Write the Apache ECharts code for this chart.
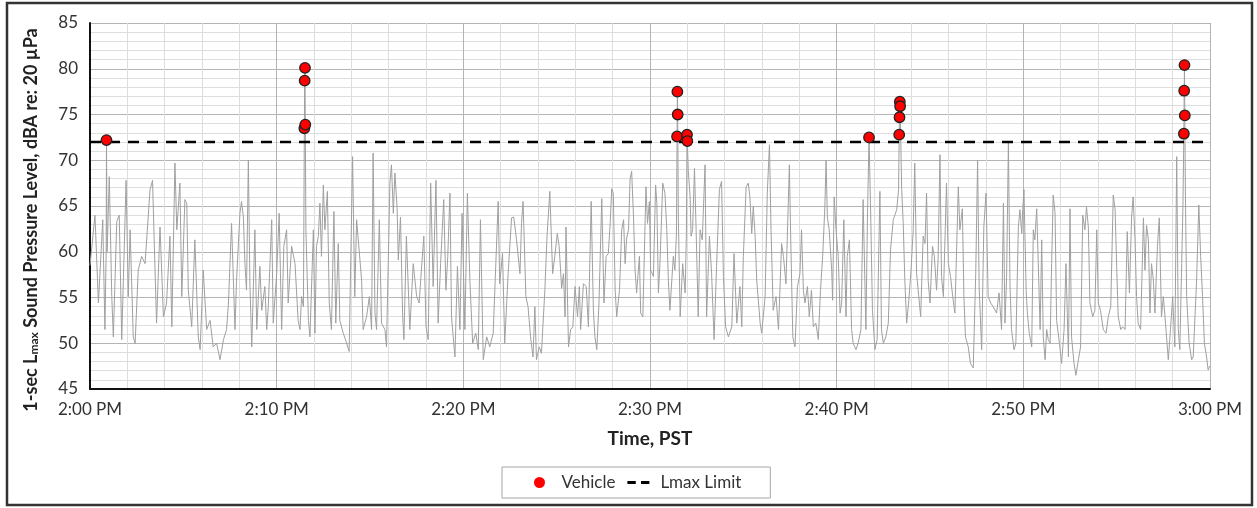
<!DOCTYPE html>
<html>
<head>
<meta charset="utf-8">
<script src="https://cdn.jsdelivr.net/npm/echarts@6/dist/echarts.min.js"></script>
<style>html,body{margin:0;padding:0;background:#fff;}#chart{width:1257px;height:508px;}</style>
</head>
<body>
<div id="chart"></div>
<script>
// Time axis: seconds after 2:00 PM
const xTickLabels = ['2:00 PM','2:10 PM','2:20 PM','2:30 PM','2:40 PM','2:50 PM','3:00 PM'];
const limitDb = 72;

// 1-sec Lmax trace (vertices)
const timeSec = [
0,16,27,41,48,52,53,55,62,70,75,86,94,102,116,123,129,139,145,155,166,177,193,201,209,214,225,236,246,257,263,273,279,289,295,305,311,316,327,337,348,354,364,375,386,396,407,418,429,439,445,455,466,471,482,487,493,498,503,509,514,520,530,536,546,552,562,568,573,584,589,600,608,616,623,632,637,648,659,669,675,680,686,689,690,691,692,694,702,707,718,723,728,734,739,
744,750,755,763,769,776,784,790,798,803,814,825,833,844,851,857,865,873,878,889,898,905,910,916,921,930,937,948,953,964,969,975,980,987,991,998,1005,1009,1017,1028,1039,1050,1058,1066,1073,1080,1087,1095,1103,1112,1119,1127,1137,1144,1150,1157,1162,1173,1181,1189,1196,1205,1213,1221,1230,1240,1248,1255,1264,1275,1285,1296,1312,1317,1326,1333,1344,1355,1362,1371,1382,1387,1392,1401,1408,1416,1424,1430,1435,1444,1451,1462,1469,1478,1487,1494,1502,1508,
1516,1522,1527,1530,1538,1545,1552,1559,1567,1573,1577,1586,1595,1602,1611,1618,1623,1629,1636,1645,1652,1659,1666,1672,1677,1682,1688,1693,1702,1709,1715,1720,1725,1731,1736,1741,1747,1752,1757,1766,1770,1777,1787,1792,1798,1802,1811,1818,1822,1827,1832,1841,1848,1854,1859,1864,1875,1880,1885,1887,1888,1889,1891,1897,1905,1913,1917,1919,1920,1923,1929,1932,1937,1943,1948,1955,1961,1968,1977,1982,1991,1998,2006,2014,2023,2030,2036,2043,2052,2063,2070,2079,2089,2095,2100,2109,2116,2121,2127,2132,2138,2143,2154,2159,2170,2177,2184,2189,2196,2205,2213,2223,2229,2237,2248,2252,2259,2266,2274,
2282,2287,2293,2298,2306,2312,2319,2325,2333,2341,2348,2355,2362,2366,2370,2376,2384,2387,2392,2398,2405,2411,2416,2423,2430,2434,2441,2448,2453,2462,2469,2478,2485,2494,2499,2504,2510,2515,2523,2530,2539,2544,2550,2558,2566,2573,2582,2593,2599,2601,2602,2603,2604,2609,2614,2619,2625,2632,2639,2646,2651,2657,2662,2670,2678,2684,2689,2694,2700,2708,2714,2721,2726,2732,2737,2743,2749,2753,2759,2766,2773,2780,2791,2796,2804,2809,2814,2823,2830,2839,2847,2853,2858,2866,2873,2880,2887,2895,2903,2914,2922,
2930,2936,2941,2946,2952,2957,2962,2970,2976,2984,2989,2995,2998,3002,3009,3013,3019,3027,3032,3037,3043,3048,3054,3059,3064,3070,3075,3080,3086,3091,3096,3102,3107,3116,3123,3131,3137,3145,3150,3155,3163,3169,3177,3184,3191,3198,3203,3209,3214,3223,3230,3236,3241,3248,3257,3266,3273,3281,3289,3295,3300,3305,3313,3319,3327,3334,3341,3348,3353,3359,3364,3369,3377,3386,3391,3396,3402,3407,3412,3418,3423,3431,3437,3444,3450,3457,3466,3473,3480,3487,3493,3498,3503,3509,3513,3516,3517,3518,3519,3521,3525,3533,3541,3546,3557,3564,3570,3576,3582,3589,3594,3599
];
const levelDb = [
58.5,64.0,54.4,63.5,51.5,60.0,72.2,60.0,68.2,55.1,50.7,63.3,64.0,50.4,67.8,55.1,62.4,50.7,50.0,58.0,59.5,58.7,66.8,67.8,58.0,52.2,62.7,52.9,54.4,61.7,51.8,69.7,62.4,67.5,55.1,65.7,65.3,55.8,51.8,61.3,50.7,49.3,58.0,51.5,52.5,49.6,50.0,48.2,50.4,51.5,54.4,63.1,51.5,56.9,64.2,65.5,63.8,58.7,55.8,70.0,56.5,49.6,62.4,51.5,58.4,53.6,56.2,51.5,54.0,63.5,52.2,57.6,64.2,51.5,60.6,62.4,54.4,60.6,58.7,52.5,51.5,55.1,54.0,73.5,78.7,80.1,73.9,62.4,52.5,50.7,62.4,51.1,60.6,61.7,65.3,
59.5,67.3,62.4,66.6,54.4,51.5,64.4,52.2,60.9,52.5,51.1,50.0,49.1,70.4,55.1,63.5,60.2,56.9,51.5,52.9,55.1,51.5,70.8,53.3,51.5,63.5,52.2,51.5,49.6,67.5,69.5,64.2,68.6,64.9,59.1,63.8,52.9,50.4,61.7,51.5,58.7,55.1,54.4,58.4,61.7,51.8,50.4,67.5,56.2,67.8,52.2,58.7,65.7,55.8,59.5,66.4,52.9,48.5,58.4,51.5,64.2,51.5,66.4,56.9,50.0,51.1,49.3,63.5,48.2,50.7,49.6,51.1,65.5,56.5,59.8,50.0,57.6,63.7,63.8,61.3,57.6,63.1,65.5,55.1,54.0,50.7,48.5,54.0,48.2,49.6,48.9,55.8,61.7,66.6,57.6,59.5,62.0,60.6,
56.0,57.6,52.9,62.7,49.6,51.5,51.8,56.2,52.9,56.2,51.5,56.5,56.2,51.8,65.5,53.6,50.7,49.3,54.4,65.8,54.4,59.5,59.8,63.1,66.9,66.4,55.8,52.9,55.8,62.4,63.5,58.7,61.5,62.4,68.0,68.8,63.8,58.0,55.5,59.5,53.3,52.9,67.1,63.1,65.5,58.0,57.3,67.3,65.3,55.5,58.7,67.5,66.4,62.4,56.9,53.6,59.5,58.0,62.0,72.6,77.5,75.0,64.0,52.9,58.7,55.5,62.0,72.8,72.1,68.9,66.0,61.7,62.4,69.1,62.7,52.9,62.4,61.3,69.5,52.9,61.7,57.6,50.4,58.4,66.8,67.7,57.3,51.8,50.7,51.8,59.8,52.2,56.2,51.8,59.5,67.1,67.5,66.0,62.0,64.9,61.7,56.9,52.2,51.1,55.1,66.4,71.7,62.4,53.6,55.1,51.5,60.9,59.5,56.5,69.5,62.0,50.7,49.6,56.2,
57.6,62.4,55.8,54.4,56.2,52.9,55.8,51.8,52.2,50.4,55.8,59.5,64.9,70.0,63.8,62.4,58.0,54.7,66.0,62.4,59.5,53.3,54.4,63.5,52.9,59.5,61.3,51.5,50.0,49.3,50.0,51.5,65.7,51.5,63.8,72.5,63.1,53.6,49.3,50.4,66.6,51.5,50.0,50.7,52.2,60.2,63.5,64.6,66.8,72.8,74.7,76.4,75.9,66.8,63.1,56.9,52.2,54.7,58.0,62.4,69.7,57.6,55.8,52.9,61.7,60.9,66.4,56.9,54.4,60.6,59.5,55.8,59.1,70.6,57.3,55.1,62.4,67.5,58.7,57.3,55.1,53.3,67.1,62.4,64.7,55.1,50.7,49.6,47.8,47.3,57.6,70.0,56.2,49.3,62.7,66.4,55.1,54.4,54.0,53.3,55.5,
51.5,65.3,52.2,56.9,71.9,56.5,51.5,49.3,50.0,62.7,64.6,62.0,64.6,66.8,55.8,53.3,51.1,49.6,62.4,61.3,64.7,64.9,51.5,61.3,50.7,48.2,51.5,50.4,50.0,58.7,66.2,64.2,52.5,50.0,47.8,51.5,58.7,48.5,64.7,50.7,47.8,46.5,48.2,49.6,64.0,62.4,64.9,62.7,54.4,52.9,53.6,62.4,54.4,53.6,51.5,51.1,52.9,54.0,66.2,64.6,58.4,52.9,51.5,51.8,51.5,62.2,55.5,63.8,66.0,61.3,55.1,52.2,51.5,63.7,58.0,62.9,61.3,53.3,58.7,56.9,53.3,60.6,63.7,52.9,55.1,52.2,48.2,51.5,55.1,49.6,70.4,51.5,49.3,58.7,65.0,72.9,77.6,80.4,74.9,66.0,55.1,50.0,48.2,48.5,56.9,65.1,59.5,55.1,50.0,48.5,47.1,47.5
];

// Vehicle events (seconds after 2:00 PM, dBA)
const vehicleSec = [53,689,690,691,692,1887,1888,1889,1919,1920,2504,2601,2602,2603,2604,3516,3517,3518,3519];
const vehicleDb  = [72.2,73.5,78.7,80.1,73.9,72.6,77.5,75.0,72.8,72.1,72.5,72.8,74.7,76.4,75.9,72.9,77.6,80.4,74.9];

const chart = echarts.init(document.getElementById('chart'), null, {renderer: 'canvas'});
const FONT = 'Lato, "Open Sans", sans-serif';

chart.setOption({
  animation: false,
  backgroundColor: '#fff',
  textStyle: {fontFamily: FONT},
  grid: {left: 90, right: 47, top: 23, bottom: 119, containLabel: false},
  graphic: [{
    type: 'rect', silent: true, z: 100,
    shape: {x: 7, y: 3, width: 1245, height: 502},
    style: {fill: 'none', stroke: '#333', lineWidth: 2.5}
  }],
  xAxis: {
    type: 'value', min: 0, max: 3600, interval: 600,
    name: 'Time, PST', nameLocation: 'middle', nameGap: 40,
    nameTextStyle: {fontFamily: FONT, fontWeight: 'bold', fontSize: 19, color: '#222'},
    axisLine: {show: true, onZero: false, lineStyle: {color: '#111', width: 2}},
    axisTick: {show: false},
    axisLabel: {margin: 12, fontSize: 17, color: '#333', fontFamily: FONT,
      formatter: v => xTickLabels[Math.round(v / 600)] || ''},
    splitLine: {show: true, lineStyle: {color: '#b4b4b4', width: 1}},
    minorTick: {show: false, splitNumber: 5},
    minorSplitLine: {show: true, lineStyle: {color: '#dedede', width: 1}}
  },
  yAxis: {
    type: 'value', min: 45, max: 85, interval: 5,
    name: '{b|1-sec L}{s|max}{b| Sound Pressure Level, dBA re: 20 µPa}',
    nameLocation: 'middle', nameGap: 50,
    nameTextStyle: {
      padding: [0, 28, 0, 0],
      rich: {
        b: {fontFamily: FONT, fontWeight: 'bold', fontSize: 18, color: '#222', verticalAlign: 'bottom'},
        s: {fontFamily: FONT, fontWeight: 'bold', fontSize: 12, color: '#222', verticalAlign: 'bottom', padding: [10, 0, 0, 0]}
      }
    },
    axisLine: {show: true, onZero: false, lineStyle: {color: '#111', width: 2}},
    axisTick: {show: false},
    axisLabel: {margin: 12, fontSize: 17, color: '#333', fontFamily: FONT},
    splitLine: {show: true, lineStyle: {color: '#b4b4b4', width: 1}},
    minorTick: {show: false, splitNumber: 5},
    minorSplitLine: {show: true, lineStyle: {color: '#dedede', width: 1}}
  },
  legend: {
    data: [
      {name: 'Vehicle', icon: 'circle', itemStyle: {color: '#ff0000', borderWidth: 0}},
      {name: 'Lmax Limit', icon: 'path://M0,0h8v3h-8z M13,0h8v3h-8z', itemStyle: {color: '#000', borderWidth: 0}}
    ],
    left: 502, top: 467,
    padding: [7, 29, 7, 32],
    itemWidth: 22, itemHeight: 11, itemGap: 12,
    symbolKeepAspect: true,
    borderColor: '#a6a6a6', borderWidth: 1, borderRadius: 0,
    backgroundColor: '#fff',
    textStyle: {fontSize: 17, color: '#333', fontFamily: FONT, padding: [0, 0, 0, 6]}
  },
  series: [
    {
      name: 'Trace', type: 'line', z: 2,
      data: timeSec.map((t, i) => [t, levelDb[i]]),
      showSymbol: false, symbol: 'none',
      lineStyle: {color: '#a0a0a0', width: 1},
      silent: true
    },
    {
      name: 'Lmax Limit', type: 'line', z: 3,
      data: [[0, limitDb], [3600, limitDb]],
      symbol: 'none', showSymbol: false,
      lineStyle: {color: '#000', width: 2.5, type: [11, 8]},
      itemStyle: {color: '#000'}
    },
    {
      name: 'Vehicle', type: 'scatter', z: 5,
      data: vehicleSec.map((t, i) => [t, vehicleDb[i]]),
      symbol: 'circle', symbolSize: 10.5,
      itemStyle: {color: '#ff0000', borderColor: '#222', borderWidth: 1.3, opacity: 1}
    }
  ]
});
</script>
</body>
</html>
